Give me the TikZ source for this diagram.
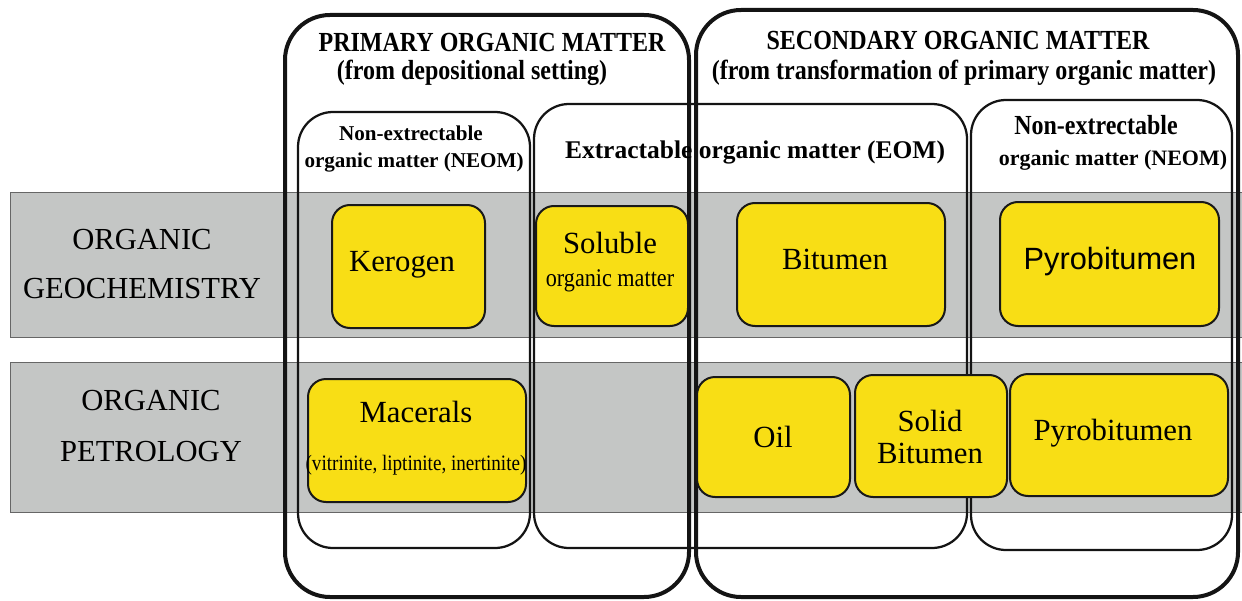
\documentclass[tikz,border=0pt]{standalone}
\usepackage{fontspec}
\setmainfont{Liberation Serif}
\newfontfamily\narrowserif[FakeStretch=0.87]{Liberation Serif}
\newfontfamily\pyrosans{Liberation Sans}
\definecolor{bandgray}{HTML}{C4C6C5}
\definecolor{boxyellow}{HTML}{F8DE15}

\begin{document}
\begin{tikzpicture}[x=0.2mm, y=-0.2mm,
		band/.style={fill=bandgray, draw=black!60, line width=0.2mm},
		outerbox/.style={draw=black!92, line width=0.8mm, rounded corners=9mm},
		innerbox/.style={draw=black!92, line width=0.45mm, rounded corners=7mm},
		ybox/.style={fill=boxyellow, draw=black!90, line width=0.4mm, rounded corners=3.6mm},
		lbl/.style={inner sep=0pt, font=\fontsize{17.5}{20}\selectfont},
		title/.style={inner sep=0pt, font=\narrowserif\bfseries\fontsize{15.7}{18}\selectfont}]
			%%%%% START %%%%%
			
			\useasboundingbox (0, 0) rectangle (1242, 600);
			
			\draw[band] (10, 192) rectangle (1250, 337);
			\draw[band] (10, 362) rectangle (1250, 512);
			
			\node[lbl, align=center, font=\fontsize{17.4}{27.9}\selectfont] (geochem) at (142, 264) {ORGANIC\\GEOCHEMISTRY};
			\node[lbl, align=center, font=\fontsize{17.4}{28.9}\selectfont] (petro) at (151, 426) {ORGANIC\\PETROLOGY};
			
			\draw[innerbox] (298, 112) rectangle (530, 548);
			\draw[innerbox] (534, 104) rectangle (967, 548);
			\draw[innerbox] (971, 100) rectangle (1232, 550);
			
			\draw[outerbox] (285, 15) rectangle (689, 597);
			\draw[outerbox] (696, 10) rectangle (1238, 597);
			
			\node[title] (primary) at (492, 43) {PRIMARY ORGANIC MATTER};
			\node[title] (primfrom) at (472, 73) {(from depositional setting)};
			\node[title] (secondary) at (958, 41) {SECONDARY ORGANIC MATTER};
			\node[title] (secfrom) at (964, 73) {(from transformation of primary organic matter)};
			
			\node[inner sep=0pt, font=\bfseries\fontsize{12}{14}\selectfont] (neomprim) at (411, 133) {Non-extrectable};
			\node[inner sep=0pt, font=\bfseries\fontsize{12}{14}\selectfont] (neomprimb) at (414, 163) {organic matter (NEOM)};
			\node[inner sep=0pt, font=\bfseries\fontsize{14.5}{17}\selectfont] (eom) at (755, 152) {Extractable organic matter (EOM)};
			\node[title] (neomsec) at (1096, 125) {Non-extrectable};
			\node[inner sep=0pt, font=\bfseries\fontsize{12.5}{15}\selectfont] (neomsecb) at (1113, 160) {organic matter (NEOM)};
			
			\draw[ybox] (332, 205) rectangle (485, 328);
			\draw[ybox] (536, 206) rectangle (688, 326);
			\draw[ybox] (737, 203) rectangle (945, 326);
			\draw[ybox] (1000, 202) rectangle (1219, 326);
			
			\draw[ybox] (308, 379) rectangle (526, 502);
			\draw[ybox] (697, 377) rectangle (850, 497);
			\draw[ybox] (855, 375) rectangle (1007, 497);
			\draw[ybox] (1010, 374) rectangle (1228, 496);
			
			\node[lbl] (kerogen) at (402, 265) {Kerogen};
			\node[lbl, align=center, font=\fontsize{17.5}{19}\selectfont] (soluble) at (610, 262) {Soluble\\{\narrowserif\fontsize{14.5}{17}\selectfont organic matter}};
			\node[lbl] (bitumen) at (835, 259) {Bitumen};
			\node[lbl, font=\pyrosans\fontsize{17.5}{20}\selectfont] (pyrogeo) at (1110, 262) {Pyrobitumen};
			
			\node[lbl, align=center, font=\fontsize{17.5}{27}\selectfont] (macerals) at (416, 438) {Macerals\\{\narrowserif\fontsize{12.5}{15}\selectfont (vitrinite, liptinite, inertinite)}};
			\node[lbl] (oil) at (773, 437) {Oil};
			\node[lbl, align=center, font=\fontsize{17.5}{18.2}\selectfont] (solid) at (930, 437) {Solid\\Bitumen};
			\node[lbl] (pyropetro) at (1113, 433) {Pyrobitumen};
			
			%%%%% END %%%%%
\end{tikzpicture}
\end{document}
